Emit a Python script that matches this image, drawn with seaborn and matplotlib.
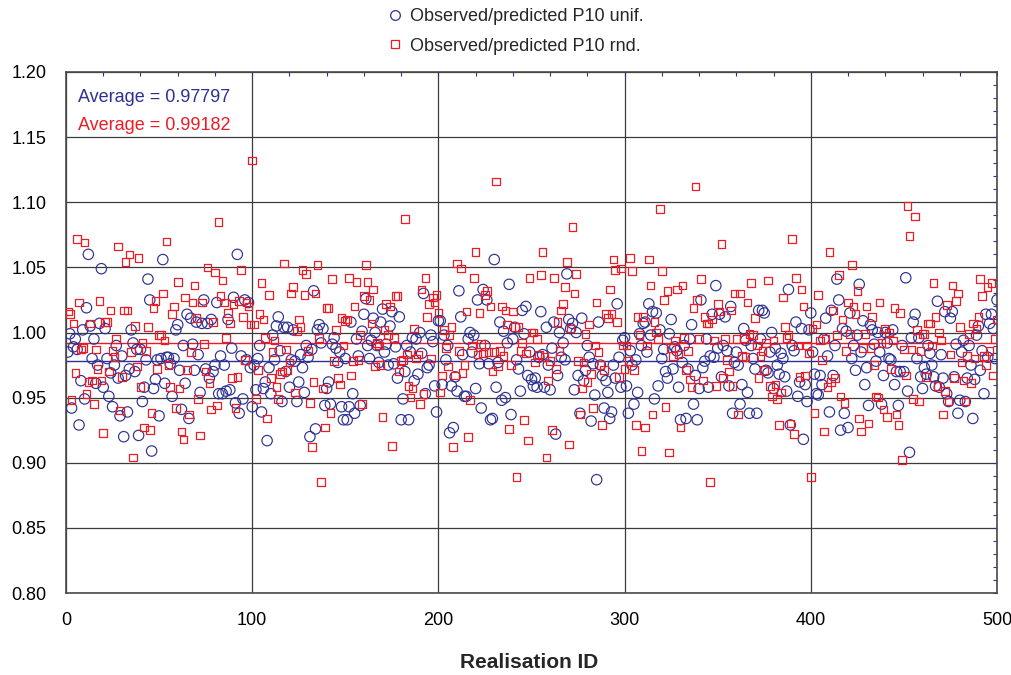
import numpy as np
import pandas as pd
import matplotlib
matplotlib.use("Agg")
import matplotlib.pyplot as plt
from matplotlib.lines import Line2D
from matplotlib.ticker import MultipleLocator, FormatStrFormatter
import seaborn as sns

# Observed/predicted P10 ratio per realisation, uniform sampling (circles)
unif_ratio = [
    0.985, 0.999, 0.942, 0.989, 0.995, 0.987, 0.929, 0.963, 1.002, 0.949,
    1.019, 1.060, 1.005, 0.980, 0.995, 0.961, 0.975, 1.007, 1.049, 0.958,
    1.003, 0.980, 0.951, 0.969, 0.943, 0.975, 0.990, 0.965, 0.936, 0.982,
    0.920, 0.967, 0.939, 0.972, 1.002, 0.992, 0.970, 0.987, 0.921, 0.987,
    0.947, 0.958, 0.979, 1.041, 1.025, 0.909, 0.957, 0.964, 0.979, 0.936,
    0.980, 1.056, 0.961, 0.981, 0.981, 0.976, 0.951, 0.980, 1.002, 1.006,
    0.971, 0.941, 0.990, 0.961, 1.014, 0.934, 1.011, 0.991, 0.971, 1.008,
    0.983, 0.954, 1.007, 1.025, 0.972, 1.007, 0.965, 1.010, 0.970, 0.975,
    1.023, 0.953, 0.982, 0.953, 0.975, 0.955, 1.010, 0.956, 0.988, 1.027,
    0.946, 1.060, 0.938, 0.982, 0.949, 1.025, 0.979, 1.023, 0.973, 0.943,
    0.975, 0.956, 0.980, 0.990, 0.939, 0.957, 0.962, 0.917, 0.973, 0.953,
    0.998, 0.979, 1.005, 1.012, 0.986, 0.947, 1.004, 0.970, 1.004, 0.958,
    0.979, 1.002, 0.978, 0.947, 0.962, 0.983, 0.973, 0.954, 0.990, 0.981,
    0.920, 0.987, 1.032, 0.926, 1.002, 1.006, 0.992, 1.003, 0.944, 0.957,
    0.962, 0.945, 0.991, 0.996, 0.988, 0.977, 0.985, 0.943, 0.933, 0.980,
    0.933, 0.943, 1.008, 0.953, 0.938, 0.995, 0.982, 0.944, 1.001, 1.014,
    1.026, 0.990, 0.980, 0.994, 1.011, 1.000, 0.990, 0.977, 1.008, 1.018,
    0.985, 0.991, 0.975, 1.005, 1.016, 0.976, 0.989, 0.965, 1.012, 0.933,
    0.949, 0.970, 0.990, 0.933, 0.985, 0.996, 0.963, 0.995, 0.968, 1.000,
    0.984, 1.030, 0.953, 0.973, 0.975, 0.998, 0.993, 0.959, 0.939, 1.009,
    1.009, 0.960, 0.998, 0.979, 0.990, 0.923, 0.959, 0.927, 0.966, 0.955,
    1.032, 1.012, 0.983, 0.951, 0.951, 0.995, 1.000, 0.985, 0.998, 0.957,
    1.025, 0.976, 0.942, 1.033, 0.990, 1.025, 0.976, 0.933, 0.934, 1.056,
    0.958, 0.977, 1.008, 0.948, 1.001, 0.950, 0.992, 1.037, 0.937, 0.995,
    1.004, 0.979, 0.972, 0.955, 1.017, 0.999, 1.020, 0.967, 0.985, 0.964,
    0.959, 0.965, 0.958, 0.981, 1.016, 0.983, 0.958, 1.004, 0.975, 0.956,
    0.988, 1.008, 0.922, 0.967, 1.000, 0.981, 0.992, 0.979, 1.045, 1.010,
    1.003, 1.007, 0.956, 1.000, 0.967, 0.938, 1.011, 0.963, 0.971, 0.990,
    0.981, 0.932, 0.976, 0.952, 0.887, 1.008, 0.975, 0.967, 0.942, 0.963,
    0.954, 0.934, 0.939, 0.975, 0.965, 1.022, 0.981, 0.958, 0.994, 0.996,
    0.959, 0.938, 0.986, 0.975, 0.945, 0.979, 0.954, 0.999, 0.990, 1.007,
    1.008, 0.985, 1.022, 0.998, 1.016, 0.949, 1.015, 0.959, 1.002, 0.980,
    0.987, 0.970, 0.965, 0.999, 1.010, 0.972, 0.989, 0.986, 0.958, 0.933,
    0.977, 0.990, 0.934, 0.972, 0.995, 1.006, 0.945, 0.967, 0.933, 0.957,
    1.025, 0.973, 0.978, 0.995, 0.958, 0.982, 1.014, 0.981, 1.036, 0.988,
    1.014, 0.966, 0.990, 1.012, 0.986, 0.959, 1.020, 0.938, 0.977, 0.985,
    0.975, 0.945, 0.960, 1.003, 0.994, 0.954, 0.938, 0.990, 0.980, 0.972,
    0.938, 1.017, 0.995, 1.017, 1.015, 0.971, 0.969, 0.985, 1.000, 0.957,
    0.988, 0.975, 0.968, 0.984, 0.980, 0.966, 0.955, 1.033, 0.929, 0.990,
    0.986, 1.008, 0.951, 0.962, 1.003, 0.918, 0.960, 0.947, 1.002, 1.015,
    0.985, 0.968, 0.953, 0.952, 0.967, 0.960, 0.995, 1.011, 0.982, 0.939,
    1.017, 0.967, 0.990, 1.041, 1.025, 0.925, 1.003, 0.938, 1.001, 0.927,
    1.015, 0.980, 0.990, 0.971, 0.998, 1.037, 0.985, 1.009, 0.960, 0.973,
    0.944, 1.006, 1.002, 0.991, 0.978, 1.000, 0.985, 0.945, 0.967, 1.000,
    0.992, 0.980, 0.979, 1.002, 0.960, 0.970, 0.944, 0.970, 0.990, 0.970,
    1.042, 0.955, 0.908, 0.996, 1.008, 1.014, 0.980, 0.996, 0.966, 0.957,
    0.973, 0.968, 0.990, 0.984, 0.975, 0.966, 0.959, 1.024, 0.958, 0.983,
    0.965, 1.016, 0.953, 0.947, 1.011, 1.016, 0.966, 0.991, 0.938, 0.948,
    0.985, 0.994, 0.947, 0.965, 0.990, 0.975, 0.934, 0.964, 0.998, 1.005,
    0.971, 0.986, 0.953, 1.014, 0.981, 1.007, 1.014, 1.003, 0.980, 1.025,
]

# Observed/predicted P10 ratio per realisation, random sampling (squares)
rnd_ratio = [
    1.016, 1.014, 0.948, 1.007, 0.969, 1.072, 1.023, 0.987, 0.988, 1.069,
    0.953, 0.962, 1.007, 0.963, 0.945, 0.987, 0.972, 1.024, 0.963, 0.923,
    1.008, 1.008, 0.970, 1.017, 0.986, 0.981, 0.995, 1.066, 0.940, 0.966,
    1.017, 1.054, 1.017, 1.060, 0.985, 0.904, 1.005, 0.974, 1.057, 0.958,
    0.992, 0.927, 0.986, 1.004, 0.925, 0.938, 1.019, 1.024, 0.972, 0.998,
    0.998, 1.030, 0.994, 1.070, 0.975, 0.958, 1.014, 1.020, 0.942, 1.039,
    0.957, 0.924, 0.918, 1.027, 0.971, 0.937, 0.985, 1.023, 1.036, 1.011,
    0.949, 0.921, 1.023, 0.991, 0.970, 1.050, 0.961, 0.941, 1.008, 1.046,
    0.944, 1.085, 1.028, 1.040, 1.023, 0.996, 1.015, 1.007, 0.965, 1.022,
    0.942, 0.966, 1.024, 1.048, 1.012, 0.979, 1.023, 1.020, 1.006, 1.132,
    1.006, 0.949, 0.971, 1.014, 1.038, 1.010, 0.996, 0.934, 1.029, 0.965,
    0.985, 0.994, 0.958, 0.949, 0.968, 0.970, 1.053, 0.987, 0.971, 0.977,
    1.030, 1.035, 0.954, 1.001, 1.010, 1.004, 1.048, 1.029, 1.045, 0.986,
    0.946, 0.912, 0.962, 1.030, 1.052, 0.996, 0.885, 0.957, 0.927, 1.019,
    1.019, 0.938, 1.041, 0.978, 1.002, 0.965, 0.960, 1.011, 0.990, 1.009,
    1.010, 1.042, 0.967, 0.978, 1.020, 1.039, 0.979, 0.998, 0.945, 1.028,
    1.052, 1.039, 1.025, 1.007, 1.033, 0.974, 0.992, 0.990, 0.975, 0.935,
    1.002, 1.022, 0.998, 1.020, 0.913, 0.996, 1.028, 1.028, 0.970, 0.978,
    0.979, 1.087, 0.983, 0.959, 0.950, 0.957, 1.003, 0.980, 0.983, 0.945,
    1.033, 0.953, 1.042, 1.012, 1.022, 0.980, 1.027, 1.023, 1.029, 1.015,
    0.954, 0.967, 1.002, 0.988, 0.974, 0.998, 1.004, 0.912, 0.967, 1.053,
    0.986, 1.049, 0.969, 0.975, 1.016, 0.920, 0.948, 0.990, 1.042, 1.062,
    0.983, 1.015, 0.991, 0.984, 1.029, 1.032, 0.985, 1.020, 0.970, 0.985,
    1.116, 0.974, 0.986, 1.020, 0.982, 1.017, 1.006, 0.926, 0.975, 1.016,
    1.004, 0.889, 1.004, 0.986, 0.992, 0.933, 0.984, 0.917, 1.042, 1.000,
    1.000, 0.977, 0.995, 0.983, 1.044, 1.062, 0.981, 0.904, 0.963, 0.978,
    0.925, 1.042, 0.972, 1.008, 0.986, 1.017, 1.022, 1.035, 1.054, 0.914,
    1.003, 1.081, 1.030, 1.045, 0.978, 0.937, 0.957, 0.977, 0.999, 0.962,
    1.006, 0.968, 0.942, 0.990, 1.023, 0.985, 0.975, 0.929, 0.971, 1.014,
    1.011, 1.033, 1.014, 1.056, 1.048, 1.008, 0.966, 1.049, 0.990, 0.972,
    0.990, 0.978, 1.057, 1.047, 0.971, 0.929, 1.012, 0.998, 0.909, 1.012,
    0.927, 0.990, 1.056, 1.036, 0.937, 1.008, 1.000, 0.995, 1.095, 1.047,
    1.025, 0.943, 1.032, 0.908, 0.988, 0.982, 0.994, 1.033, 0.983, 0.927,
    1.036, 0.996, 0.971, 0.986, 0.964, 0.958, 1.019, 1.112, 1.025, 0.995,
    1.041, 0.963, 1.012, 1.007, 1.007, 0.885, 1.010, 0.994, 0.959, 1.022,
    1.016, 1.068, 0.965, 0.995, 0.979, 0.970, 1.017, 0.959, 1.030, 0.995,
    0.937, 1.030, 0.982, 0.996, 0.981, 1.023, 0.999, 1.038, 0.998, 1.011,
    0.990, 0.965, 0.982, 0.986, 0.971, 0.992, 1.040, 0.959, 0.951, 0.994,
    0.960, 0.949, 0.929, 0.954, 1.027, 1.004, 0.996, 0.998, 0.930, 1.072,
    0.922, 1.042, 0.990, 0.966, 1.033, 1.020, 0.967, 0.990, 0.984, 0.889,
    1.003, 0.938, 1.006, 1.029, 0.994, 0.979, 0.924, 0.995, 0.958, 1.062,
    0.962, 1.017, 0.965, 0.998, 1.044, 0.951, 1.010, 0.946, 0.986, 1.023,
    0.999, 1.052, 1.020, 1.014, 1.032, 0.934, 0.924, 0.988, 0.999, 1.020,
    0.930, 0.988, 1.012, 0.975, 0.951, 0.950, 1.023, 0.992, 0.941, 1.003,
    0.935, 1.000, 0.972, 0.994, 1.019, 0.937, 0.929, 1.015, 0.902, 0.987,
    0.967, 1.097, 1.074, 0.987, 0.949, 1.089, 1.002, 0.947, 0.986, 0.999,
    0.999, 0.966, 1.007, 1.007, 0.990, 1.038, 1.012, 0.959, 1.000, 0.994,
    0.937, 0.955, 1.021, 0.947, 0.983, 1.036, 0.965, 1.024, 1.030, 1.004,
    0.977, 0.963, 0.947, 0.982, 0.999, 0.961, 1.007, 0.980, 1.003, 1.012,
    1.041, 1.028, 0.982, 0.975, 1.035, 0.986, 1.038, 0.967, 0.995, 1.010,
]

realisation_id = np.arange(1, len(unif_ratio) + 1)

unif_label = "Observed/predicted P10 unif."
rnd_label = "Observed/predicted P10 rnd."
unif_average = 0.97797
rnd_average = 0.99182

NAVY = "#2E3192"
RED = "#ED1C24"

sns.set_theme(style="white")
plt.rcParams["font.family"] = ["Liberation Sans", "DejaVu Sans"]

df = pd.DataFrame({
    "id": realisation_id,
    "unif": unif_ratio,
    "rnd": rnd_ratio,
})

fig = plt.figure(figsize=(10.11, 6.75), dpi=100)
ax = fig.add_axes([66 / 1011, 1 - 593 / 675, 931 / 1011, 521 / 675])

ax.set_xlim(0, 500)
ax.set_ylim(0.80, 1.20)

ax.xaxis.set_major_locator(MultipleLocator(100))
ax.xaxis.set_minor_locator(MultipleLocator(20))
ax.yaxis.set_major_locator(MultipleLocator(0.05))
ax.yaxis.set_minor_locator(MultipleLocator(0.01))
ax.yaxis.set_major_formatter(FormatStrFormatter("%.2f"))

ax.grid(which="major", color="#3c3c3c", linewidth=0.9)
ax.set_axisbelow(True)

sns.scatterplot(data=df, x="id", y="unif", marker="o", s=56,
                facecolor="none", edgecolor=NAVY, linewidth=0.85,
                ax=ax, legend=False, zorder=3)
sns.scatterplot(data=df, x="id", y="rnd", marker="s", s=30,
                facecolor="none", edgecolor=RED, linewidth=0.9,
                ax=ax, legend=False, zorder=4)

ax.axhline(unif_average, color=NAVY, linewidth=1.0, zorder=2.5)
ax.axhline(rnd_average, color=RED, linewidth=1.0, zorder=2.5)

ax.text(0.013, 0.952, f"Average = {unif_average:.5f}", transform=ax.transAxes,
        color=NAVY, fontsize=13, va="center", ha="left")
ax.text(0.013, 0.898, f"Average = {rnd_average:.5f}", transform=ax.transAxes,
        color=RED, fontsize=13, va="center", ha="left")

for side in ["left", "right", "top", "bottom"]:
    ax.spines[side].set_color("#4a4a4a")
    ax.spines[side].set_linewidth(1.2)

ax.tick_params(which="both", direction="in", top=True, right=True,
               color=NAVY, length=3, width=0.8)
ax.tick_params(axis="x", which="major", pad=14, labelsize=13, labelcolor="black")
ax.tick_params(axis="y", which="major", pad=14, labelsize=13, labelcolor="black")

ax.set_xlabel("")
ax.set_ylabel("")
fig.text(529 / 1011, 1 - 662 / 675, "Realisation ID", fontsize=15,
         fontweight="bold", ha="center", va="center")

handles = [
    Line2D([], [], linestyle="none", marker="o", markersize=7,
           markerfacecolor="none", markeredgecolor=NAVY, markeredgewidth=0.9),
    Line2D([], [], linestyle="none", marker="s", markersize=6,
           markerfacecolor="none", markeredgecolor=RED, markeredgewidth=0.9),
]
fig.legend(handles, [unif_label, rnd_label], loc="upper left",
           bbox_to_anchor=(386 / 1011, 1 - 8 / 675), frameon=False,
           fontsize=13, handlelength=1.0, handletextpad=0.35,
           labelspacing=0.7, borderpad=0, borderaxespad=0)

fig.savefig("out.png", dpi=100)
